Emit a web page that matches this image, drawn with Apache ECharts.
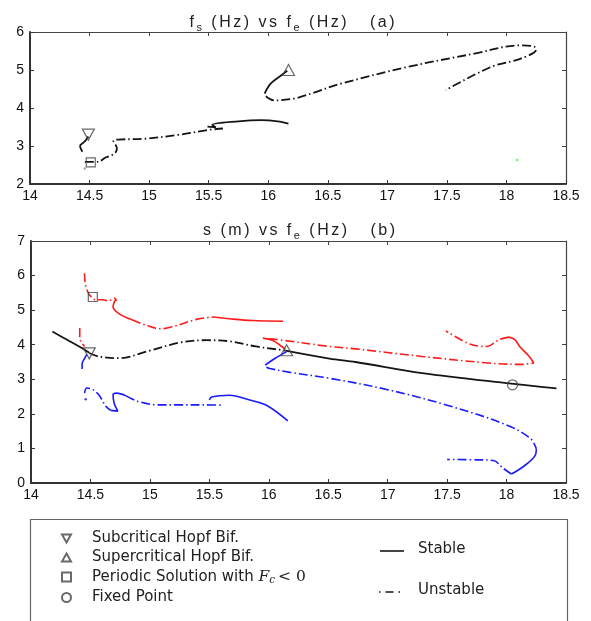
<!DOCTYPE html>
<html>
<head>
<meta charset="utf-8">
<script src="https://cdn.jsdelivr.net/npm/echarts@6/dist/echarts.min.js"></script>
<style>html,body{margin:0;padding:0;background:#fff}#c{width:591px;height:621px}</style>
</head>
<body>
<div id="c"></div>
<script>
// ---------- axis ticks ----------
const xTicks = [14, 14.5, 15, 15.5, 16, 16.5, 17, 17.5, 18, 18.5];
const yTicksA = [2, 3, 4, 5, 6];
const yTicksB = [0, 1, 2, 3, 4, 5, 6, 7];

// ---------- panel (a): f_s vs f_e ----------
const aStable1 = [[14.49,3.25],[14.46,3.12],[14.42,3.0],[14.44,2.85]];
const aUnstable1 = [[14.46,2.58],[14.57,2.58],[14.63,2.69],[14.71,2.8],[14.73,2.94],[14.7,3.14],[14.74,3.17],[14.96,3.19],[15.24,3.29],[15.49,3.42],[15.62,3.46]];
const aStable2 = [[15.49,3.51],[15.56,3.49],[15.53,3.56],[15.75,3.65],[15.94,3.68],[16.08,3.65],[16.17,3.59]];
const aStable3 = [[15.97,4.38],[16.02,4.64],[16.11,4.86],[16.16,4.98]];
const aUnstable2 = [[15.98,4.31],[16.05,4.2],[16.22,4.25],[16.36,4.38],[16.61,4.64],[17.17,5.08],[17.73,5.43],[18.12,5.65],[18.23,5.62],[18.25,5.54],[18.12,5.3],[17.87,5.08],[17.49,4.47]];
const aSubHopf = [[14.49,3.3]];
const aSuperHopf = [[16.17,5.0]];
const aPeriodic = [[14.51,2.57]];
const aDot = [[14.46,2.41]];
const aGreenDot = [[18.09,2.63]];

// ---------- panel (b): s vs f_e ----------
const bBlackStable1 = [[14.18,4.38],[14.3,4.15],[14.42,3.92],[14.49,3.77]];
const bBlackUnstable = [[14.49,3.76],[14.57,3.66],[14.74,3.61],[14.98,3.81],[15.26,4.07],[15.48,4.13],[15.67,4.1],[15.89,3.95],[16.08,3.86],[16.14,3.83]];
const bBlackStable2 = [[16.14,3.83],[16.51,3.6],[16.73,3.5],[17.29,3.18],[18.0,2.89],[18.42,2.74]];
const bRedUnstable1 = [[14.45,6.07],[14.46,5.7],[14.49,5.45],[14.51,5.38],[14.54,5.3],[14.6,5.3],[14.65,5.27],[14.7,5.35],[14.72,5.27]];
const bRedStable1 = [[14.71,5.3],[14.69,5.1],[14.74,4.9],[14.85,4.72]];
const bRedUnstable2 = [[14.85,4.72],[14.98,4.55],[15.09,4.46],[15.2,4.53],[15.4,4.74],[15.53,4.8]];
const bRedStable2 = [[15.53,4.8],[15.67,4.75],[15.86,4.7],[16.12,4.68]];
const bRedUnstable3 = [[14.41,4.48],[14.41,4.2],[14.45,3.95]];
const bRedStable3 = [[15.95,4.19],[16.03,4.13],[16.1,3.97],[16.14,3.87]];
const bRedUnstable4 = [[16.0,4.17],[16.07,4.15],[16.51,3.95],[16.73,3.88],[17.29,3.66],[17.85,3.47],[18.13,3.43],[18.23,3.47]];
const bRedStable4 = [[18.23,3.47],[18.18,3.7],[18.11,3.95],[18.07,4.15],[18.02,4.22]];
const bRedUnstable5 = [[18.02,4.22],[17.94,4.15],[17.83,3.95],[17.69,4.02],[17.49,4.4]];
const bBlueStable1 = [[14.47,3.72],[14.45,3.6],[14.43,3.45],[14.43,3.3]];
const bBlueUnstable1 = [[14.45,2.6],[14.47,2.75],[14.52,2.7],[14.57,2.55],[14.63,2.22],[14.67,2.1]];
const bBlueStable2 = [[14.67,2.1],[14.73,2.08],[14.7,2.3],[14.69,2.55],[14.72,2.6],[14.8,2.52]];
const bBlueUnstable2 = [[14.8,2.52],[14.9,2.36],[15.07,2.26],[15.26,2.26],[15.45,2.26],[15.62,2.25]];
const bBlueStable3 = [[15.5,2.4],[15.52,2.49],[15.67,2.54],[15.84,2.4],[15.98,2.25],[16.16,1.8]];
const bBlueStable4 = [[15.97,3.41],[16.05,3.6],[16.15,3.8]];
const bBlueUnstable3 = [[15.98,3.35],[16.01,3.31],[16.18,3.2],[16.51,3.03],[17.0,2.7],[17.5,2.25],[18.0,1.68],[18.2,1.29],[18.25,1.0]];
const bBlueStable5 = [[18.25,1.0],[18.24,0.79],[18.14,0.47],[18.04,0.26]];
const bBlueUnstable4 = [[18.04,0.26],[17.97,0.43],[17.89,0.65],[17.76,0.67],[17.5,0.68]];
const bBlueDot = [[14.46,2.42]];
const bSubHopf = [[14.49,3.75]];
const bSuperHopf = [[16.15,3.84]];
const bPeriodic = [[14.52,5.38]];
const bFixedPoint = [[18.05,2.84]];

const legendMarkers = ['Subcritical Hopf Bif.', 'Supercritical Hopf Bif.', 'Periodic Solution with Fc < 0', 'Fixed Point'];
const legendLines = ['Stable', 'Unstable'];

// ---------- styling ----------
const FONT = 'Liberation Sans, Arial, sans-serif';
const LFONT = 'DejaVu Sans';
const BLACK = '#151515', RED = '#ff1a1a', BLUE = '#1a1aff';
const DASHDOT = [9, 3, 1.5, 3];
const triDown = 'path://M0,0L10,0L5,9Z';
const triUp = 'path://M5,0L10,9L0,9Z';

function line(data, color, stable, grid) {
  return {
    type: 'line', name: stable ? legendLines[0] : legendLines[1],
    xAxisIndex: grid * 2, yAxisIndex: grid * 2,
    data: data, smooth: 0.35, symbol: 'none', showSymbol: false,
    lineStyle: { color: color, width: color === BLACK ? 1.8 : 1.6, type: stable ? 'solid' : DASHDOT },
    itemStyle: { color: color },
    silent: true, animation: false, z: 3
  };
}
function marker(name, data, symbol, size, grid) {
  return {
    type: 'scatter', name: name, xAxisIndex: grid * 2, yAxisIndex: grid * 2,
    data: data, symbol: symbol, symbolSize: size,
    itemStyle: { color: 'rgba(255,255,255,0)', borderColor: '#444', borderWidth: 1.2 },
    animation: false, z: 5
  };
}
function dot(data, color, grid) {
  return {
    type: 'scatter', xAxisIndex: grid * 2, yAxisIndex: grid * 2, data: data,
    symbol: 'circle', symbolSize: 2.5, itemStyle: { color: color }, animation: false, silent: true
  };
}

const series = [
  line(aStable1, BLACK, true, 0),
  line(aUnstable1, BLACK, false, 0),
  line(aStable2, BLACK, true, 0),
  line(aStable3, BLACK, true, 0),
  line(aUnstable2, BLACK, false, 0),
  dot(aDot, '#888', 0),
  dot(aGreenDot, '#33ff33', 0),
  line(bBlackStable1, BLACK, true, 1),
  line(bBlackUnstable, BLACK, false, 1),
  line(bBlackStable2, BLACK, true, 1),
  line(bRedUnstable1, RED, false, 1),
  line(bRedStable1, RED, true, 1),
  line(bRedUnstable2, RED, false, 1),
  line(bRedStable2, RED, true, 1),
  line(bRedUnstable3, RED, false, 1),
  line(bRedStable3, RED, true, 1),
  line(bRedUnstable4, RED, false, 1),
  line(bRedStable4, RED, true, 1),
  line(bRedUnstable5, RED, false, 1),
  line(bBlueStable1, BLUE, true, 1),
  line(bBlueUnstable1, BLUE, false, 1),
  line(bBlueStable2, BLUE, true, 1),
  line(bBlueUnstable2, BLUE, false, 1),
  line(bBlueStable3, BLUE, true, 1),
  line(bBlueStable4, BLUE, true, 1),
  line(bBlueUnstable3, BLUE, false, 1),
  line(bBlueStable5, BLUE, true, 1),
  line(bBlueUnstable4, BLUE, false, 1),
  dot(bBlueDot, BLUE, 1),
  marker(legendMarkers[0], aSubHopf, triDown, [12, 11], 0),
  marker(legendMarkers[1], aSuperHopf, triUp, [12, 11], 0),
  marker(legendMarkers[2], aPeriodic, 'rect', 9, 0),
  marker(legendMarkers[0], bSubHopf, triDown, [12, 11], 1),
  marker(legendMarkers[1], bSuperHopf, triUp, [12, 11], 1),
  marker(legendMarkers[2], bPeriodic, 'rect', 9, 1),
  marker(legendMarkers[3], bFixedPoint, 'circle', 10, 1)
];

function xAxisPair(grid) {
  const base = { type: 'value', gridIndex: grid, min: xTicks[0], max: xTicks[xTicks.length - 1], interval: xTicks[1] - xTicks[0], splitLine: { show: false } };
  return [
    Object.assign({}, base, {
      position: 'bottom',
      axisLine: { show: true, onZero: false, lineStyle: { color: '#333', width: 2 } },
      axisTick: { inside: true, length: 4, lineStyle: { color: '#333' } },
      axisLabel: { color: '#111', fontSize: 14, fontFamily: FONT, margin: 5 }
    }),
    Object.assign({}, base, {
      position: 'top',
      axisLine: { show: true, onZero: false, lineStyle: { color: '#444', width: 1.2 } },
      axisTick: { inside: true, length: 4, lineStyle: { color: '#444' } },
      axisLabel: { show: false }
    })
  ];
}
function yAxisPair(grid, ticks) {
  const base = { type: 'value', gridIndex: grid, min: ticks[0], max: ticks[ticks.length - 1], interval: 1, splitLine: { show: false } };
  return [
    Object.assign({}, base, {
      position: 'left',
      axisLine: { show: true, onZero: false, lineStyle: { color: '#333', width: 2 } },
      axisTick: { inside: true, length: 4, lineStyle: { color: '#333' } },
      axisLabel: { color: '#111', fontSize: 14, fontFamily: FONT, margin: 6 }
    }),
    Object.assign({}, base, {
      position: 'right',
      axisLine: { show: true, onZero: false, lineStyle: { color: '#444', width: 1.2 } },
      axisTick: { inside: true, length: 4, lineStyle: { color: '#444' } },
      axisLabel: { show: false }
    })
  ];
}

// title with loose letter spacing (each glyph a rich fragment); parts: [text, isSubscript]
function spaced(parts) {
  return parts.map(function (p) {
    return p[0].split('').map(function (ch) { return '{' + (p[1] ? 's' : 'n') + '|' + ch + '}'; }).join('');
  }).join('');
}
const titleRich = {
  n: { fontSize: 16, fontFamily: FONT, fontWeight: 'normal', color: '#222', lineHeight: 20, padding: [0, 1.25] },
  s: { fontSize: 11, fontFamily: FONT, fontWeight: 'normal', color: '#222', lineHeight: 20, verticalAlign: 'bottom', padding: [0, 1.25] }
};
const titleA = [['f', 0], ['s', 1], [' (Hz) vs f', 0], ['e', 1], [' (Hz)   (a)', 0]];
const titleB = [['s (m) vs f', 0], ['e', 1], [' (Hz)   (b)', 0]];

const legendRich = {
  f: { fontSize: 15, fontFamily: LFONT, color: '#222', lineHeight: 18, padding: [0, 0, 0, 16] },
  t: { fontSize: 15, fontFamily: LFONT, color: '#222', lineHeight: 18 },
  i: { fontSize: 15.5, fontFamily: 'DejaVu Serif', fontStyle: 'italic', color: '#222', lineHeight: 18 },
  sub: { fontSize: 10.5, fontFamily: 'DejaVu Serif', fontStyle: 'italic', color: '#222', lineHeight: 18, verticalAlign: 'bottom', padding: [0, 3, 0, 0] },
  m: { fontSize: 15.5, fontFamily: 'DejaVu Serif', color: '#222', lineHeight: 18 }
};

const chart = echarts.init(document.getElementById('c'), null, { renderer: 'canvas' });
chart.setOption({
  backgroundColor: '#fff',
  animation: false,
  title: [
    { text: spaced(titleA), left: 287, top: 8, textAlign: 'center', textStyle: { rich: titleRich } },
    { text: spaced(titleB), left: 294, top: 216, textAlign: 'center', textStyle: { rich: titleRich } }
  ],
  grid: [
    { left: 30, right: 25, top: 32, height: 152 },
    { left: 31, right: 25, top: 241, height: 242 }
  ],
  xAxis: [].concat(xAxisPair(0), xAxisPair(1)),
  yAxis: [].concat(yAxisPair(0, yTicksA), yAxisPair(1, yTicksB)),
  legend: [
    {
      data: legendMarkers, orient: 'vertical', left: 56, top: 526, itemGap: 4,
      itemWidth: 9, itemHeight: 9, selectedMode: false,
      formatter: function (name) {
        if (name === legendMarkers[2]) return '{f|Periodic Solution with }{i|F}{sub|c}{m|< 0}';
        return '{f|' + name + '}';
      },
      textStyle: { rich: legendRich }
    }
  ],
  graphic: [
    { type: 'rect', left: 28, top: 517, shape: { width: 537, height: 130 }, style: { fill: 'none', stroke: '#666', lineWidth: 1.2 }, z: -1, silent: true },
    { type: 'line', shape: { x1: 380, y1: 551, x2: 404, y2: 551 }, style: { stroke: BLACK, lineWidth: 1.6 }, silent: true },
    { type: 'text', left: 418, top: 542, style: { text: legendLines[0], font: '15px "DejaVu Sans"', fill: '#222' }, silent: true },
    { type: 'line', shape: { x1: 379, y1: 592, x2: 406, y2: 592 }, style: { stroke: BLACK, lineWidth: 1.6, lineDash: [1.5, 5, 8, 5, 1.5, 20] }, silent: true },
    { type: 'text', left: 418, top: 583, style: { text: legendLines[1], font: '15px "DejaVu Sans"', fill: '#222' }, silent: true }
  ],
  series: series
});
</script>
</body>
</html>
